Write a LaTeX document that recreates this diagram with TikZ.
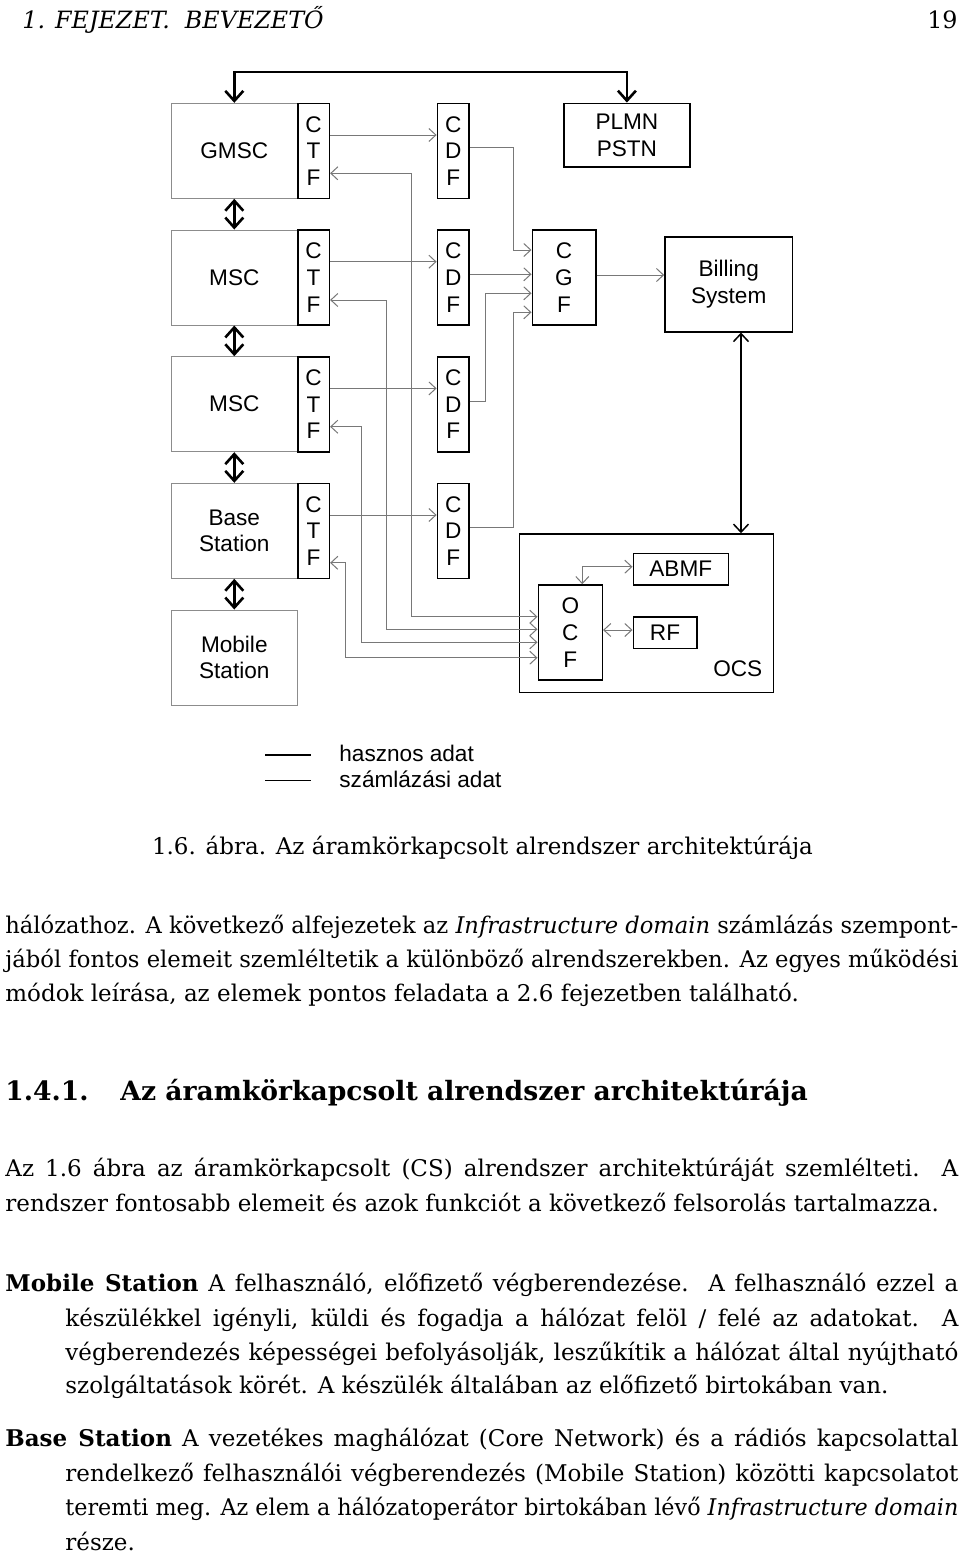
\documentclass[tikz,border=0pt]{standalone}
\usepackage{graphicx}
\usepackage{fontspec}
\setmainfont{DejaVu Serif}
\newfontfamily\arialf{Liberation Sans}
\usetikzlibrary{arrows.meta,calc}
\definecolor{gline}{RGB}{120,120,120}
\definecolor{gboxc}{RGB}{140,140,140}
\newsavebox\jlbox
\newcommand\jl[2]{\sbox\jlbox{#2}\ifdim\wd\jlbox>#1\relax\resizebox{#1}{\height}{\usebox\jlbox}\else\makebox[#1][s]{#2}\fi}
\newcommand\diagf{\arialf\fontsize{11.3}{13.3}\selectfont}
\newcommand\bodyf{\fontsize{11.5}{13.5}\selectfont}
\begin{document}
\begin{tikzpicture}[x=0.5pt,y=-0.5pt,
  gbox/.style={draw=gboxc, line width=0.5pt, inner sep=0pt, font=\diagf, align=center, minimum width=63.3pt, minimum height=47.5pt},
  bbox/.style={draw=black, line width=0.8pt, inner sep=0pt, font=\diagf, align=center},
  fbox/.style={bbox, minimum width=15.8pt, minimum height=47.5pt},
  garr/.style={draw=gline, line width=0.5pt, -{Straight Barb[length=3.5pt,width=6.5pt]}},
  garrb/.style={draw=gline, line width=0.5pt, {Straight Barb[length=3.5pt,width=6.5pt]}-{Straight Barb[length=3.5pt,width=6.5pt]}},
  tarr/.style={line width=1.3pt, {Straight Barb[length=5pt,width=9pt]}-{Straight Barb[length=5pt,width=9pt]}},
  marr/.style={line width=0.75pt, {Straight Barb[length=4pt,width=7.5pt]}-{Straight Barb[length=4pt,width=7.5pt]}},
  txt/.style={anchor=base west, inner sep=0pt, font=\bodyf}]
\fill[white] (0,0) rectangle (960,1555);
\useasboundingbox (0,0) rectangle (960,1555);

% header
\node[anchor=base west, inner sep=0pt, font=\itshape\fontsize{11.9}{14}\selectfont] (hdr) at (22,28) {1. FEJEZET.\ \ BEVEZETŐ};
\node[anchor=base east, inner sep=0pt, font=\fontsize{11.9}{14}\selectfont] (pg) at (958,28) {19};

% diagram boxes
\node[bbox, minimum width=127pt, minimum height=79.3pt] (ocs) at (646.3,613.3) {};
\node[gbox] (gmsc) at (234.3,150.8) {GMSC};
\node[gbox] (msc1) at (234.3,277.5) {MSC};
\node[gbox] (msc2) at (234.3,404.2) {MSC};
\node[gbox] (bs) at (234.3,530.8) {Base\\Station};
\node[gbox] (ms) at (234.3,657.5) {Mobile\\Station};
\node[fbox] (ctf1) at (313.5,150.8) {C\\T\\F};
\node[fbox] (ctf2) at (313.5,277.5) {C\\T\\F};
\node[fbox] (ctf3) at (313.5,404.2) {C\\T\\F};
\node[fbox] (ctf4) at (313.5,530.8) {C\\T\\F};
\node[fbox] (cdf1) at (453.2,150.8) {C\\D\\F};
\node[fbox] (cdf2) at (453.2,277.5) {C\\D\\F};
\node[fbox] (cdf3) at (453.2,404.2) {C\\D\\F};
\node[fbox] (cdf4) at (453.2,530.8) {C\\D\\F};
\node[bbox, minimum width=31.7pt, minimum height=47.5pt] (cgf) at (564,277.5) {C\\G\\F};
\node[bbox, minimum width=63.2pt, minimum height=31.8pt] (plmn) at (626.9,135.2) {PLMN\\PSTN};
\node[bbox, minimum width=63.7pt, minimum height=47.5pt] (bill) at (728.7,284.2) {Billing\\System};
\node[bbox, minimum width=32pt, minimum height=47.5pt] (ocf) at (570.3,632.5) {O\\C\\F};
\node[bbox, minimum width=47.5pt, minimum height=15.8pt] (abmf) at (680.8,569.2) {ABMF};
\node[bbox, minimum width=31.7pt, minimum height=15.8pt] (rf) at (665,632.5) {RF};
\node[anchor=base east, inner sep=0pt, font=\diagf] (ocsl) at (762.7,676) {OCS};

% bend coordinates
\coordinate (topy) at (400,72);
\coordinate (b1b) at (513.3,250);
\coordinate (b3b) at (485.7,293.3);
\coordinate (b4b) at (513.3,312.3);
\coordinate (o1b) at (411.7,616.7);
\coordinate (o2b) at (386.7,629.3);
\coordinate (o3b) at (361,642.3);
\coordinate (o4b) at (345,657.7);
\coordinate (ab) at (582.3,566.7);
\coordinate (cb) at (600,275);
\coordinate (rfy) at (610,630);
\coordinate (bx) at (741,400);

% thick user-data arrows
\draw[tarr] (gmsc.north) |- (topy) -| (plmn.north);
\draw[tarr] (gmsc.south) -- (msc1.north);
\draw[tarr] (msc1.south) -- (msc2.north);
\draw[tarr] (msc2.south) -- (bs.north);
\draw[tarr] (bs.south) -- (ms.north);

% CTF -> CDF
\foreach \i in {1,2,3,4}{
  \draw[garr] ([yshift=7.9pt]ctf\i.east) -- ([yshift=7.9pt]cdf\i.west);
}
% CDF -> CGF
\draw[garr] ([yshift=1.6pt]cdf1.east) -| (b1b) -- (cgf.west |- b1b);
\draw[garr] ([yshift=1.6pt]cdf2.east) -- ([yshift=1.6pt]cgf.west);
\draw[garr] ([yshift=1.6pt]cdf3.east) -| (b3b) -- (cgf.west |- b3b);
\draw[garr] ([yshift=1.6pt]cdf4.east) -| (b4b) -- (cgf.west |- b4b);
% CGF -> Billing
\draw[garr] (cgf.east |- cb) -- (bill.west |- cb);
% OCF <-> CTF
\draw[garrb] ([yshift=-11.25pt]ctf1.east) -| (o1b) -- (ocf.west |- o1b);
\draw[garrb] ([yshift=-11.25pt]ctf2.east) -| (o2b) -- (ocf.west |- o2b);
\draw[garrb] ([yshift=-11.25pt]ctf3.east) -| (o3b) -- (ocf.west |- o3b);
\draw[garrb] ([yshift=-16pt]ctf4.east) -| (o4b) -- (ocf.west |- o4b);
% OCS internals
\draw[garrb] (ocf.north -| ab) |- (abmf.west |- ab);
\draw[garrb] (ocf.east |- rfy) -- (rf.west |- rfy);
% Billing <-> OCS
\draw[marr] (bill.south -| bx) -- (ocs.north -| bx);

% legend
\coordinate (lg1a) at (265,755); \coordinate (lg1b) at (310.7,755);
\coordinate (lg2a) at (265,780.7); \coordinate (lg2b) at (310.7,780.7);
\draw[line width=1.3pt] (lg1a) -- (lg1b);
\draw[line width=0.6pt] (lg2a) -- (lg2b);
\node[anchor=base west, inner sep=0pt, font=\diagf] (lt1) at (339,761.7) {hasznos adat};
\node[anchor=base west, inner sep=0pt, font=\diagf] (lt2) at (339,787.3) {számlázási adat};

% caption
\node[anchor=base, inner sep=0pt, font=\bodyf] (cap) at (482.5,854) {1.6. ábra. Az áramkörkapcsolt alrendszer architektúrája};

% paragraph 1
\node[txt] (p1a) at (5,933) {\jl{476.5pt}{hálózathoz. A következő alfejezetek az \textit{Infrastructure domain} számlázás szempont-}};
\node[txt] (p1b) at (5,967) {\jl{476.5pt}{jából fontos elemeit szemléltetik a különböző alrendszerekben. Az egyes működési}};
\node[txt] (p1c) at (5,1001) {módok leírása, az elemek pontos feladata a 2.6 fejezetben található.};

% section heading
\node[anchor=base west, inner sep=0pt, font=\bfseries\fontsize{13.3}{16}\selectfont] (secn) at (5,1100) {1.4.1.};
\node[anchor=base west, inner sep=0pt, font=\bfseries\fontsize{13.3}{16}\selectfont] (sect) at (120,1100) {Az áramkörkapcsolt alrendszer architektúrája};

% paragraph 2
\node[txt] (p2a) at (5,1176.7) {\jl{476.5pt}{Az 1.6 ábra az áramkörkapcsolt (CS) alrendszer architektúráját szemlélteti.\ \ A}};
\node[txt] (p2b) at (5,1211.7) {rendszer fontosabb elemeit és azok funkciót a következő felsorolás tartalmazza.};

% description list
\node[txt] (d1a) at (5,1291.7) {\jl{476.5pt}{\textbf{Mobile Station} A felhasználó, előfizető végberendezése.\ \ A felhasználó ezzel a}};
\node[txt] (d1b) at (65,1326) {\jl{446.5pt}{készülékkel igényli, küldi és fogadja a hálózat felöl / felé az adatokat.\ \ A}};
\node[txt] (d1c) at (65,1360) {\jl{446.5pt}{végberendezés képességei befolyásolják, leszűkítik a hálózat által nyújtható}};
\node[txt] (d1d) at (65,1393.3) {szolgáltatások körét. A készülék általában az előfizető birtokában van.};
\node[txt] (d2a) at (5,1446.7) {\jl{476.5pt}{\textbf{Base Station} A vezetékes maghálózat (Core Network) és a rádiós kapcsolattal}};
\node[txt] (d2b) at (65,1481.7) {\jl{446.5pt}{rendelkező felhasználói végberendezés (Mobile Station) közötti kapcsolatot}};
\node[txt] (d2c) at (65,1515) {\jl{446.5pt}{teremti meg. Az elem a hálózatoperátor birtokában lévő \textit{Infrastructure domain}}};
\node[txt] (d2d) at (65,1550) {része.};
\end{tikzpicture}
\end{document}
